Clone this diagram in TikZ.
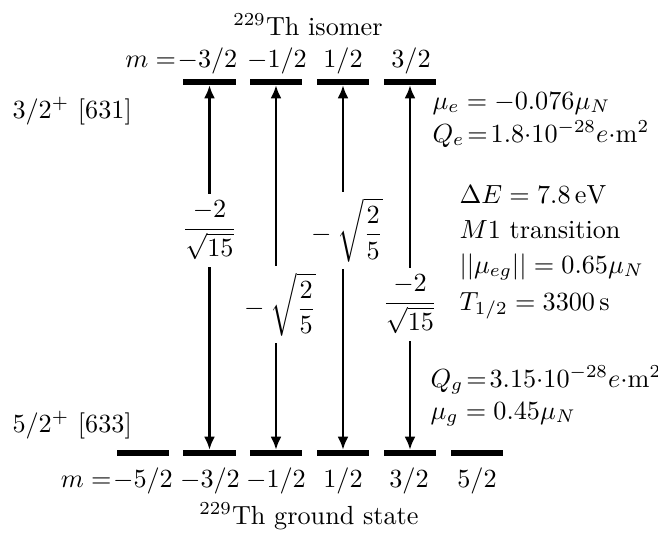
\documentclass[tikz,border=0pt]{standalone}
\usetikzlibrary{arrows.meta}
\begin{document}
\begin{tikzpicture}[x=0.3817pt,y=-0.3817pt,
  bar/.style={draw=none,fill=black,minimum width=19.85pt,minimum height=2.1pt,inner sep=0pt},
  txt/.style={inner sep=0pt,anchor=base},
  info/.style={inner sep=0pt,anchor=base west},
  arr/.style={line width=0.9pt,{Latex[length=5pt,width=4.2pt]}-{Latex[length=5pt,width=4.2pt]}},
  lab/.style={fill=white,inner sep=2.5pt}]
\useasboundingbox (0,0) rectangle (658,533);
% isomer levels
\node[bar] (e1) at (209.5,82) {};
\node[bar] (e2) at (276,82) {};
\node[bar] (e3) at (343,82) {};
\node[bar] (e4) at (410,82) {};
% ground levels
\node[bar] (g0) at (143,453) {};
\node[bar] (g1) at (209.5,453) {};
\node[bar] (g2) at (276,453) {};
\node[bar] (g3) at (343,453) {};
\node[bar] (g4) at (410,453) {};
\node[bar] (g5) at (477,453) {};
% transitions
\draw[arr] (g1.north) -- (e1.south);
\draw[arr] (g2.north) -- (e2.south);
\draw[arr] (g3.north) -- (e3.south);
\draw[arr] (g4.north) -- (e4.south);
\node[lab] (c1) at (209.5,230.5) {$\displaystyle\frac{-2}{\sqrt{15}}$};
\node[lab] (c2) at (280,304.5) {$\displaystyle-\mskip\medmuskip\sqrt{\frac{2}{5}}$};
\node[lab] (c3) at (347,230) {$\displaystyle-\mskip\medmuskip\sqrt{\frac{2}{5}}$};
\node[lab] (c4) at (410,304.5) {$\displaystyle\frac{-2}{\sqrt{15}}$};
% top labels
\node[txt] (tt) at (308,35) {$^{229}$Th isomer};
\node[inner sep=0pt,anchor=base east] (me) at (176.5,67) {$m =$};
\node[txt] (em1) at (207.5,67) {$-3/2$};
\node[txt] (em2) at (277,67) {$-1/2$};
\node[txt] (em3) at (343,67) {$1/2$};
\node[txt] (em4) at (411,67) {$3/2$};
% bottom labels
\node[inner sep=0pt,anchor=base east] (mg) at (112,487) {$m =$};
\node[txt] (gm0) at (143,487) {$-5/2$};
\node[txt] (gm1) at (210,487) {$-3/2$};
\node[txt] (gm2) at (276,487) {$-1/2$};
\node[txt] (gm3) at (343,487) {$1/2$};
\node[txt] (gm4) at (409,487) {$3/2$};
\node[txt] (gm5) at (477,487) {$5/2$};
\node[txt] (gt) at (309,524) {$^{229}$Th ground state};
% left labels
\node[info] (le) at (12,118) {$3/2^+$ [631]};
\node[info] (lg) at (12,432) {$5/2^+$ [633]};
% right info
\node[info] (i1) at (432,109) {$\mu_e = -0.076\mu_N$};
\node[info] (i2) at (432,142) {$Q_e\!=\!1.8{\cdot}10^{-28}e{\cdot}\mathrm{m}^2$};
\node[info] (i3) at (459,203) {$\Delta E = 7.8\,\mathrm{eV}$};
\node[info] (i4) at (459,238) {$M1$ transition};
\node[info] (i5) at (459,273) {$||\mu_{eg}|| = 0.65\mu_N$};
\node[info] (i6) at (459,310) {$T_{1/2} = 3300\,\mathrm{s}$};
\node[info] (i7) at (430,387) {$Q_g\!=\!3.15{\cdot}10^{-28}e{\cdot}\mathrm{m}^2$};
\node[info] (i8) at (430,419) {$\mu_g = 0.45\mu_N$};
\end{tikzpicture}
\end{document}
